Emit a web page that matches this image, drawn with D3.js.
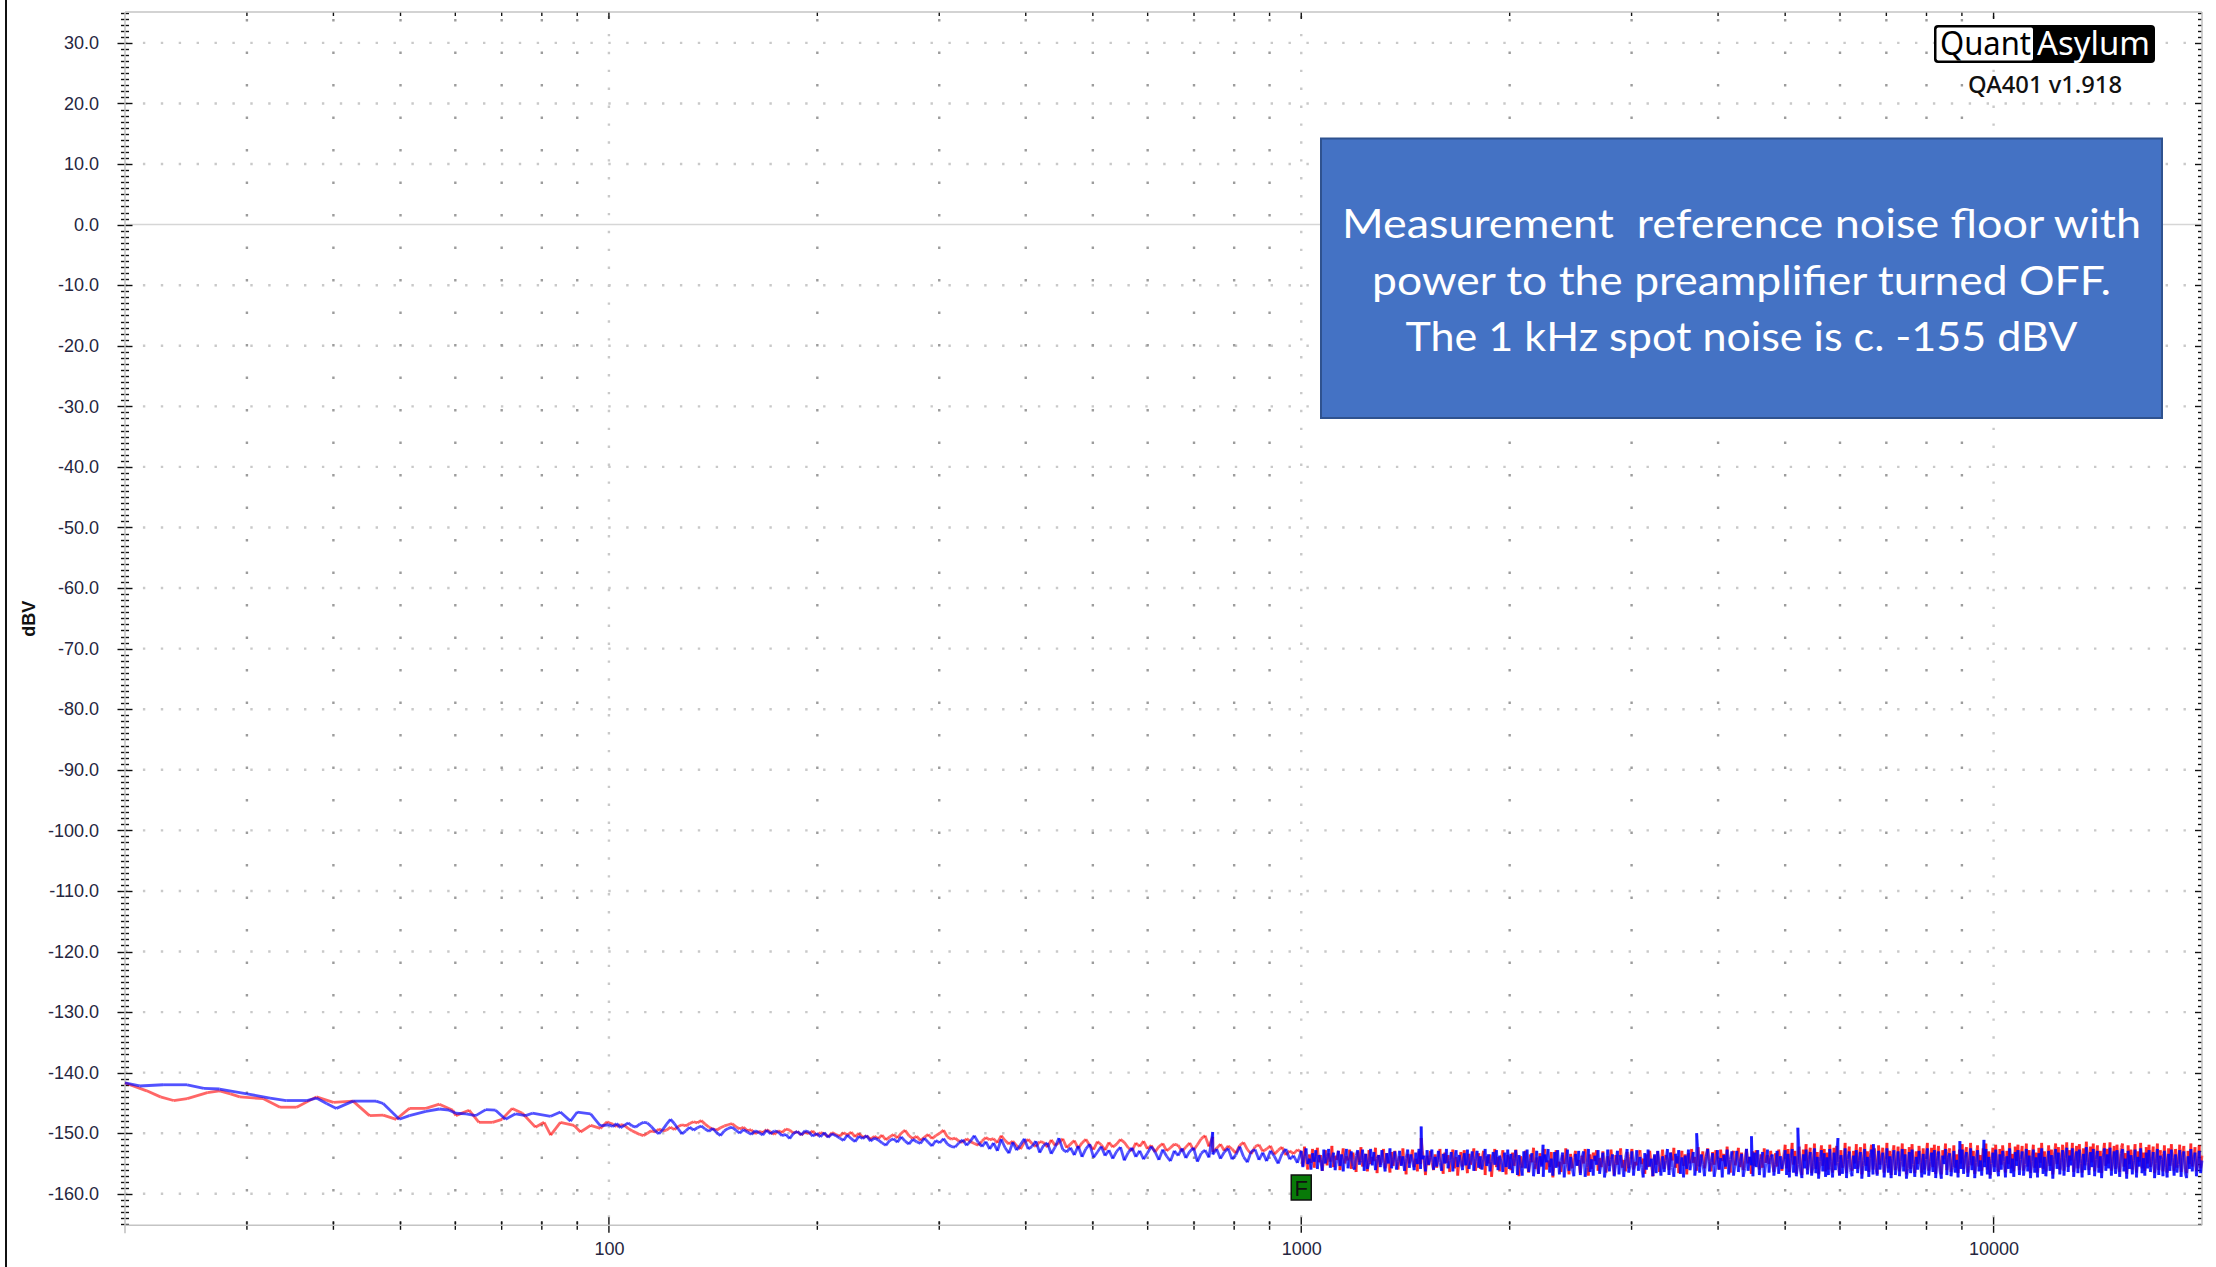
<!DOCTYPE html>
<html>
<head>
<meta charset="utf-8">
<script src="https://cdn.jsdelivr.net/npm/d3@7"></script>
<style>
  html, body { margin: 0; padding: 0; background: #ffffff; overflow: hidden; }
</style>
</head>
<body>
<svg id="chart" width="2216" height="1267"></svg>
<script>
// ---- Axis ranges and tick labels ----
const freqDomain = [20, 20000];           // Hz, log axis
const dbDomain = [-165.2, 35.1];          // dBV
const yMajorTicks = [30, 20, 10, 0, -10, -20, -30, -40, -50, -60, -70, -80, -90, -100, -110, -120, -130, -140, -150, -160];
const xLabelTicks = [100, 1000, 10000];
const yAxisTitle = "dBV";

// ---- Low band (20-100 Hz), individual readings per channel ----
const blueLowFreq = [20.0, 21.0, 22.7, 24.6, 26.0, 27.4, 30.0, 32.4, 34.2, 36.6, 37.8, 39.1, 40.4, 42.7, 46.1, 47.2, 49.8, 51.5, 54.4, 56.9, 58.8, 60.1, 62.2, 64.2, 66.4, 68.6, 70.9, 73.3, 75.8, 77.5, 82.4, 85.1, 88.0, 90.0, 94.1, 97.2];
const blueLowDb = [-141.7, -142.2, -142.0, -142.0, -142.6, -142.7, -143.5, -144.2, -144.6, -144.6, -144.2, -145.1, -145.9, -144.7, -144.7, -145.1, -147.7, -147.1, -146.4, -146.0, -146.2, -146.7, -146.8, -147.1, -146.1, -146.2, -147.7, -146.8, -147.1, -146.7, -147.2, -146.5, -148.0, -146.5, -146.8, -148.8];

const redLowFreq = [20.0, 21.5, 22.5, 23.5, 24.6, 26.3, 27.4, 28.4, 29.3, 31.7, 33.5, 35.4, 37.8, 40.0, 42.7, 45.1, 47.2, 49.3, 51.5, 54.4, 56.9, 59.5, 60.1, 62.8, 64.9, 67.9, 70.1, 72.5, 75.0, 78.3, 80.6, 82.4, 85.1, 89.0, 91.0, 94.1, 97.2, 99.4];
const redLowDb = [-141.7, -143.0, -144.0, -144.6, -144.3, -143.3, -143.0, -143.5, -144.0, -144.3, -145.7, -145.7, -144.0, -144.9, -144.7, -147.1, -147.0, -147.7, -145.9, -145.9, -145.2, -146.2, -147.1, -146.2, -148.2, -148.2, -147.7, -145.9, -146.7, -149.0, -148.2, -150.3, -148.2, -148.7, -149.8, -148.7, -149.2, -148.1];

// ---- Mid band (100 Hz - 1 kHz), log-spaced bins ----
const midBand = [100, 1000];
const midBlueDb = [
  -148.6,-148.9,-148.4,-149.1,-148.7,-148.3,-148.8,-149.0,-148.5,-148.2,
  -148.3,-148.9,-149.6,-150.1,-149.4,-148.5,-147.7,-148.4,-149.3,-150.1,
  -149.6,-149.0,-149.5,-149.1,-148.8,-149.3,-149.7,-149.2,-149.9,-150.4,
  -149.6,-149.2,-149.0,-149.5,-150.0,-149.4,-149.8,-150.2,-149.6,-149.9,
  -150.3,-149.5,-150.1,-149.6,-149.8,-150.4,-150.2,-150.9,-150.0,-149.7,
  -150.3,-149.6,-149.8,-150.5,-150.0,-150.6,-149.9,-150.7,-150.1,-150.4,
  -150.8,-151.2,-150.3,-150.9,-151.4,-150.5,-150.9,-150.4,-151.3,-150.8,
  -151.1,-151.6,-152.0,-151.2,-150.9,-151.5,-150.6,-151.3,-151.8,-151.0,
  -151.4,-151.7,-150.8,-151.5,-152.1,-151.2,-151.6,-150.9,-151.8,-152.2,
  -152.3,-151.6,-151.1,-152.0,-151.3,-150.4,-151.5,-152.2,-151.4,-152.6,
  -151.6,-152.9,-151.0,-152.4,-153.3,-151.5,-152.8,-151.9,-150.9,-152.6,
  -152.2,-151.3,-153.2,-152.0,-151.6,-153.4,-152.3,-150.8,-152.7,-153.1,
  -152.4,-153.6,-152.1,-153.9,-152.6,-151.8,-154.0,-153.1,-152.2,-153.7,
  -152.8,-154.2,-153.0,-152.3,-154.5,-153.2,-152.4,-153.9,-152.9,-154.3,
  -153.3,-152.2,-153.1,-154.4,-152.7,-153.8,-154.6,-152.9,-153.7,-152.5,
  -154.1,-153.0,-152.4,-154.7,-153.3,-152.8,-154.0,-153.5,-152.6,-154.2,
  -153.1,-152.5,-154.3,-153.6,-152.2,-153.9,-154.8,-153.0,-152.7,-154.4,
  -153.2,-154.6,-152.9,-153.8,-155.0,-153.4,-152.6,-154.3,-153.7,-154.9
];
const midRedDb = [
  -148.3,-148.5,-148.9,-148.6,-148.7,-149.2,-149.6,-149.9,-150.2,-150.4,
  -150.0,-149.6,-149.8,-149.3,-149.6,-149.5,-149.0,-149.4,-148.9,-148.6,
  -148.8,-148.4,-148.1,-148.3,-147.9,-148.5,-149.0,-149.3,-149.5,-149.1,
  -148.8,-148.6,-148.4,-148.9,-149.3,-149.0,-149.6,-149.4,-150.1,-149.7,
  -149.9,-149.4,-149.8,-150.2,-149.6,-149.9,-149.3,-149.5,-150.0,-149.7,
  -150.3,-149.8,-150.1,-149.6,-150.4,-149.9,-150.1,-150.6,-149.9,-150.2,
  -150.5,-149.9,-150.3,-149.8,-150.6,-150.0,-150.7,-150.4,-151.0,-150.5,
  -150.9,-150.3,-151.1,-150.6,-150.2,-150.8,-150.0,-149.5,-150.4,-150.9,
  -150.5,-151.2,-150.7,-150.2,-150.9,-150.4,-150.0,-149.5,-150.6,-151.0,
  -150.8,-151.3,-151.5,-150.9,-151.4,-151.7,-152.0,-151.3,-150.7,-151.1,
  -150.9,-151.6,-150.4,-151.2,-151.8,-151.3,-152.1,-152.6,-151.5,-151.0,
  -151.7,-152.2,-151.4,-151.5,-152.3,-151.1,-152.0,-151.6,-150.9,-152.4,
  -151.8,-151.2,-152.5,-151.6,-151.0,-152.0,-152.7,-151.4,-151.9,-152.8,
  -151.5,-152.3,-151.8,-151.0,-151.5,-152.4,-152.9,-151.6,-152.2,-151.3,
  -152.6,-152.0,-153.1,-152.2,-151.7,-152.9,-152.4,-151.8,-152.0,-153.0,
  -152.3,-151.6,-152.8,-151.9,-150.9,-150.4,-152.2,-153.1,-152.5,-151.8,
  -152.9,-152.1,-152.6,-153.3,-152.0,-151.5,-152.7,-153.4,-152.2,-151.9,
  -153.0,-152.6,-152.1,-153.5,-152.8,-152.3,-153.6,-152.9,-153.4,-152.7
];

// ---- Upper band (1 kHz - 5 kHz), log-spaced bins ----
const upperBand = [1000, 5000];
const upperBlueDb = [
  -152.9,-155.6,-153.8,-152.5,-155.1,-154.2,-156.0,-153.3,-154.7,-152.8,
  -155.9,-153.6,-154.4,-156.2,-152.7,-155.0,-153.9,-152.6,-155.7,-154.1,
  -153.2,-156.1,-154.6,-152.9,-155.4,-153.5,-156.3,-154.0,-152.6,-155.8,
  -154.3,-153.0,-155.5,-156.0,-153.7,-152.8,-155.2,-154.5,-152.7,-156.2,
  -153.4,-155.9,-154.8,-152.6,-155.3,-153.1,-156.1,-154.2,-153.6,-155.6,
  -152.8,-154.9,-156.3,-153.3,-155.0,-152.5,-155.8,-154.4,-153.0,-156.0,
  -154.7,-152.9,-155.4,-153.8,-156.2,-154.1,-152.7,-155.7,-153.5,-154.6,
  -156.1,-153.2,-155.1,-152.6,-155.9,-154.3,-153.7,-156.3,-152.8,-155.2,
  -154.0,-152.7,-156.0,-153.9,-155.5,-152.9,-154.8,-156.2,-153.4,-155.0,
  -152.6,-155.8,-154.5,-153.1,-156.3,-154.0,-152.8,-155.6,-153.6,-154.9,
  -156.1,-153.3,-155.3,-152.7,-155.9,-154.6,-153.0,-156.2,-154.2,-152.9,
  -155.7,-153.8,-156.0,-154.4,-152.6,-155.4,-153.5,-156.3,-154.7,-153.1,
  -155.2,-152.8,-156.1,-153.7,-154.8,-156.4,-153.2,-155.6,-152.7,-155.9,
  -153.4,-156.6,-154.1,-152.8,-156.9,-153.6,-155.3,-157.0,-153.0,-155.8,
  -152.7,-156.4,-154.5,-153.3,-157.1,-155.0,-152.9,-156.7,-153.8,-155.5,
  -157.2,-153.5,-154.8,-152.6,-156.5,-154.2,-157.0,-153.1,-155.7,-152.8,
  -156.8,-154.6,-153.2,-157.3,-155.1,-152.7,-156.2,-153.9,-155.9,-157.1,
  -153.4,-155.4,-152.9,-156.9,-154.0,-153.0,-157.2,-155.6,-152.6,-156.4,
  -154.3,-157.0,-153.7,-155.2,-152.8,-156.7,-154.9,-153.2,-157.3,-155.8,
  -152.7,-156.3,-154.4,-153.5,-157.1,-155.0,-152.9,-156.8,-153.6,-155.4,
  -157.2,-154.1,-152.6,-156.5,-155.3,-153.0,-157.0,-154.7,-152.8,-156.2,
  -153.9,-155.7,-157.3,-153.3,-156.0,-152.7,-155.5,-154.2,-157.1,-153.5,
  -156.6,-152.9,-155.1,-157.0,-153.8,-156.4,-154.5,-152.6,-156.9,-153.2,
  -155.6,-157.2,-153.4,-155.0,-152.8,-156.7,-154.0,-157.3,-153.7,-155.9,
  -152.7,-156.1,-154.6,-153.1,-157.0,-155.4,-152.9,-156.5,-153.5,-155.2,
  -157.1,-153.9,-152.6,-156.3,-154.8,-153.3,-157.2,-155.7,-152.8,-156.0,
  -154.1,-157.3,-153.6,-155.5,-152.7,-156.8,-154.3,-153.0,-157.0,-155.1,
  -152.9,-156.4,-154.7,-153.4,-157.2,-155.8,-152.6,-156.2,-153.9,-155.3,
  -157.1,-153.2,-155.6,-152.8,-156.9,-154.4,-153.1,-157.3,-155.0,-152.7,
  -156.5,-154.0,-153.5,-157.0,-155.2,-152.9,-156.7,-153.8,-155.9,-154.6
];
const upperRedDb = [
  -153.1,-155.4,-152.2,-154.6,-156.0,-153.5,-154.9,-152.6,-155.7,-153.9,
  -152.4,-154.8,-153.6,-156.2,-154.1,-152.8,-155.3,-153.3,-154.7,-152.1,
  -155.6,-153.7,-154.4,-152.9,-156.1,-154.0,-152.5,-155.0,-153.8,-154.5,
  -152.7,-155.9,-153.2,-154.3,-156.4,-153.0,-154.8,-152.3,-155.5,-154.1,
  -153.4,-156.3,-152.8,-155.1,-153.9,-154.6,-152.4,-156.6,-153.6,-155.2,
  -154.0,-152.6,-155.8,-153.3,-154.9,-156.5,-153.1,-155.4,-152.9,-154.4,
  -156.0,-153.8,-155.2,-152.5,-154.7,-156.8,-153.4,-155.0,-153.9,-152.7,
  -155.6,-154.2,-156.3,-153.0,-155.1,-152.8,-154.5,-156.9,-153.7,-155.3,
  -152.9,-154.8,-156.1,-153.5,-155.7,-154.0,-152.6,-155.4,-156.7,-153.2,
  -154.9,-153.6,-156.4,-154.3,-152.7,-155.8,-153.9,-157.0,-154.5,-153.1,
  -155.5,-152.8,-154.6,-156.6,-153.4,-155.2,-154.0,-152.5,-156.2,-154.7,
  -153.3,-155.9,-154.2,-152.9,-156.9,-153.8,-155.0,-153.5,-157.2,-154.4,
  -152.6,-155.6,-153.9,-156.3,-154.1,-152.8,-155.3,-156.8,-153.6,-154.9,
  -156.1,-153.2,-155.4,-152.7,-154.6,-157.1,-153.8,-155.7,-154.2,-152.9,
  -155.0,-156.5,-153.5,-154.8,-152.4,-155.9,-154.0,-156.7,-153.3,-155.2,
  -153.9,-152.6,-156.0,-154.5,-155.6,-153.1,-157.3,-154.2,-152.8,-155.5,
  -154.7,-156.4,-153.6,-155.1,-152.5,-154.9,-156.8,-153.4,-155.8,-154.0,
  -152.9,-155.3,-154.4,-156.6,-153.7,-155.0,-152.6,-154.8,-157.0,-153.5,
  -155.9,-153.2,-154.6,-152.8,-156.2,-154.1,-155.6,-153.0,-154.9,-156.5,
  -153.8,-155.4,-152.7,-154.3,-156.9,-153.6,-155.2,-154.0,-152.5,-155.7,
  -154.4,-156.3,-153.1,-155.8,-153.9,-152.6,-156.0,-154.7,-155.3,-153.4,
  -152.8,-155.1,-154.2,-156.7,-153.5,-155.6,-152.9,-154.6,-157.1,-153.7,
  -155.2,-153.0,-156.4,-154.8,-152.7,-155.9,-153.6,-154.3,-156.1,-153.2,
  -154.5,-152.4,-155.7,-153.8,-156.6,-154.1,-152.9,-155.4,-153.5,-156.8,
  -153.3,-155.0,-152.6,-154.9,-153.9,-156.2,-152.3,-155.5,-154.2,-153.0,
  -155.8,-153.6,-152.5,-154.7,-156.3,-153.1,-155.2,-152.8,-154.4,-156.0,
  -152.7,-154.6,-153.4,-155.9,-152.2,-154.8,-156.5,-153.7,-152.9,-155.3,
  -154.1,-152.4,-155.6,-153.2,-156.1,-154.5,-152.6,-155.0,-153.9,-156.7,
  -153.0,-155.4,-152.8,-154.3,-156.0,-153.5,-155.7,-152.5,-154.9,-153.6,
  -155.1,-152.9,-154.7,-156.4,-153.3,-155.5,-152.7,-154.2,-156.2,-153.8
];

// ---- Top band (5 kHz - 20 kHz), log-spaced bins ----
const topBand = [5000, 20000];
const topBlueDb = [
  -152.8,-156.9,-153.4,-157.3,-154.1,-152.6,-156.5,-153.8,-157.1,-155.2,
  -152.9,-156.2,-157.4,-153.5,-155.8,-152.7,-156.8,-154.4,-153.1,-157.0,
  -155.5,-152.5,-156.6,-153.9,-157.5,-154.7,-152.8,-156.3,-153.3,-157.2,
  -154.0,-156.9,-152.6,-155.6,-157.3,-153.2,-156.1,-152.9,-154.8,-157.0,
  -153.6,-156.7,-155.1,-152.5,-157.4,-154.3,-153.0,-156.4,-157.1,-153.7,
  -155.9,-152.8,-156.6,-154.5,-153.1,-157.5,-155.3,-152.6,-156.2,-153.9,
  -157.2,-154.1,-152.7,-156.8,-153.4,-155.7,-157.0,-152.9,-156.0,-154.6,
  -153.2,-157.3,-155.0,-152.5,-156.5,-153.8,-157.4,-154.2,-152.8,-156.9,
  -155.4,-153.0,-157.1,-154.7,-152.6,-156.3,-153.5,-157.5,-155.8,-153.1,
  -156.6,-152.7,-155.2,-157.2,-153.9,-156.0,-152.9,-154.9,-157.3,-153.4,
  -156.8,-154.3,-152.5,-157.0,-155.5,-153.2,-156.4,-152.8,-157.4,-154.6,
  -153.0,-156.2,-157.5,-153.7,-155.1,-152.6,-156.9,-154.0,-153.3,-157.1,
  -155.7,-152.9,-156.5,-154.4,-157.3,-153.6,-155.9,-152.7,-156.7,-154.1,
  -153.1,-157.2,-155.3,-152.5,-156.1,-153.8,-157.4,-154.8,-152.8,-156.3,
  -154.5,-157.0,-153.4,-155.6,-152.6,-156.8,-153.9,-157.5,-155.0,-153.2,
  -156.4,-152.7,-155.8,-157.1,-153.5,-156.0,-152.9,-154.7,-157.3,-153.8,
  -155.9,-152.5,-156.6,-154.2,-157.2,-153.1,-155.4,-152.8,-156.9,-154.3,
  -153.0,-157.0,-155.2,-152.6,-156.3,-153.7,-157.4,-154.6,-152.7,-156.5,
  -154.0,-157.3,-153.3,-155.7,-152.5,-156.7,-153.9,-157.1,-155.1,-152.9,
  -156.2,-153.6,-157.5,-154.4,-152.6,-155.9,-153.2,-156.8,-154.9,-152.8,
  -157.0,-154.1,-152.4,-156.4,-153.7,-155.3,-152.5,-157.2,-154.6,-153.0,
  -156.6,-152.7,-155.0,-157.3,-153.4,-156.1,-152.3,-154.8,-156.9,-153.1,
  -155.6,-152.6,-157.1,-154.3,-152.9,-156.5,-153.8,-157.4,-154.0,-152.5,
  -156.2,-153.5,-155.8,-152.4,-157.0,-154.7,-153.0,-156.7,-152.8,-155.4,
  -157.2,-153.3,-152.6,-156.3,-154.2,-157.5,-152.9,-155.9,-153.6,-156.8,
  -154.5,-152.7,-157.3,-153.9,-155.5,-152.5,-156.6,-154.1,-157.0,-153.2,
  -155.8,-152.8,-156.4,-154.6,-153.1,-157.4,-155.0,-152.6,-156.9,-153.7,
  -154.3,-157.1,-152.9,-155.6,-157.3,-153.4,-156.2,-152.7,-154.9,-157.0,
  -153.5,-156.5,-155.2,-152.8,-157.2,-154.0,-153.0,-156.7,-157.4,-153.8,
  -155.9,-152.6,-156.3,-154.4,-153.2,-157.1,-155.1,-152.9,-156.6,-154.5
];
const topRedDb = [
  -151.9,-155.8,-152.6,-156.4,-153.3,-151.6,-155.2,-152.9,-156.7,-154.0,
  -152.2,-155.5,-156.9,-152.7,-154.6,-151.8,-156.1,-153.5,-152.4,-156.6,
  -154.8,-151.7,-155.9,-153.1,-156.8,-153.8,-152.0,-155.4,-152.6,-156.3,
  -153.2,-156.0,-151.9,-154.7,-156.5,-152.4,-155.3,-152.1,-153.9,-156.9,
  -152.8,-155.7,-154.3,-151.6,-156.6,-153.4,-152.2,-155.6,-156.2,-152.9,
  -155.0,-151.8,-155.9,-153.6,-152.3,-156.8,-154.5,-151.7,-155.4,-153.0,
  -156.4,-153.2,-151.9,-156.0,-152.5,-154.8,-156.7,-152.0,-155.2,-153.7,
  -152.4,-156.5,-154.1,-151.6,-155.8,-152.9,-156.9,-153.3,-152.0,-156.1,
  -154.6,-152.2,-156.3,-153.8,-151.7,-155.5,-152.6,-156.8,-154.9,-152.3,
  -155.9,-151.8,-154.4,-156.6,-153.0,-155.1,-152.1,-154.0,-156.5,-152.5,
  -156.0,-153.4,-151.6,-156.2,-154.7,-152.4,-155.6,-151.9,-156.7,-153.7,
  -152.1,-155.4,-156.8,-152.8,-154.3,-151.7,-156.1,-153.1,-152.5,-156.4,
  -154.9,-152.0,-155.7,-153.5,-156.6,-152.7,-155.0,-151.8,-155.9,-153.3,
  -152.3,-156.5,-154.5,-151.6,-155.3,-152.9,-156.7,-153.9,-152.0,-155.5,
  -153.6,-156.2,-152.5,-154.8,-151.7,-156.0,-153.0,-156.9,-154.2,-152.4,
  -155.6,-151.9,-154.9,-156.4,-152.6,-155.2,-152.0,-153.8,-156.5,-152.9,
  -155.1,-151.6,-155.8,-153.4,-156.3,-152.2,-154.6,-151.9,-156.1,-153.5,
  -152.1,-156.2,-154.4,-151.7,-155.5,-152.8,-156.6,-153.7,-151.9,-155.7,
  -153.2,-156.5,-152.4,-154.9,-151.6,-155.9,-153.0,-156.3,-154.3,-152.0,
  -155.4,-152.7,-156.8,-153.6,-151.7,-155.1,-152.3,-156.0,-154.0,-151.9,
  -156.2,-153.3,-151.5,-155.6,-152.8,-154.5,-151.6,-156.4,-153.8,-152.1,
  -155.8,-151.8,-154.2,-156.5,-152.5,-155.3,-151.4,-153.9,-156.1,-152.2,
  -154.8,-151.7,-156.3,-153.5,-152.0,-155.7,-152.9,-156.6,-153.2,-151.6,
  -155.4,-152.6,-155.0,-151.5,-156.2,-153.9,-152.1,-155.9,-151.9,-154.6,
  -156.4,-152.4,-151.7,-155.5,-153.3,-156.7,-152.0,-155.1,-152.7,-156.0,
  -153.6,-151.8,-156.5,-153.0,-154.7,-151.6,-155.8,-153.2,-156.2,-152.3,
  -155.0,-151.9,-155.6,-153.8,-152.2,-156.6,-154.1,-151.7,-156.1,-152.8,
  -153.4,-156.3,-152.0,-154.8,-156.5,-152.5,-155.4,-151.8,-154.0,-156.2,
  -152.6,-155.7,-154.4,-151.9,-156.4,-153.1,-152.1,-155.9,-156.6,-152.9,
  -155.1,-151.7,-155.5,-153.6,-152.3,-156.3,-154.2,-152.0,-155.8,-153.7
];

// ---- Discrete tones (harmonics of ~745 Hz) ----
const blueToneFreq = [745, 1490, 2235, 3725, 4470, 5215, 5960, 6705, 8940, 9685];
const blueToneDb = [-149.8, -148.9, -151.9, -150.0, -150.5, -149.1, -150.8, -151.8, -151.3, -151.1];
const redToneFreq = [745, 1490];
const redToneDb = [-150.6, -150.8];

// ---- Annotations ----
const markerFreq = 1000;
const markerLabel = "F";
const noteLines = [
  "Measurement\u00a0 reference noise floor with",
  "power to the preamplifier turned OFF.",
  "The 1 kHz spot noise is c. -155 dBV"
];
const logoLeft = "Quant";
const logoRight = "Asylum";
const versionText = "QA401 v1.918";

// ================= drawing =================
const W = 2216, H = 1267;
const plot = { left: 125, right: 2202, top: 12, bottom: 1225.3 };
const svg = d3.select("#chart");

const x = d3.scaleLog().domain(freqDomain).range([plot.left, plot.right]);
const y = d3.scaleLinear().domain(dbDomain).range([plot.bottom, plot.top]);

const tickFont = "'Liberation Sans', Arial, sans-serif";
const tickColor = "#262640";
const axisGrey = "#c4c4c4";

svg.append("rect").attr("width", W).attr("height", H).attr("fill", "#ffffff");

// window edge on the left
svg.append("line").attr("x1", 6).attr("x2", 6).attr("y1", 0).attr("y2", H)
  .attr("stroke", "#111").attr("stroke-width", 2);

// minor frequency positions (2..9 x decade) inside the domain
const minorFreqs = [];
[10, 100, 1000, 10000].forEach(dec => {
  for (let m = 2; m <= 9; m++) {
    const f = dec * m;
    if (f > freqDomain[0] && f < freqDomain[1]) minorFreqs.push(f);
  }
});
const decadeFreqs = [100, 1000, 10000];

// ---- grid ----
const grid = svg.append("g");
yMajorTicks.forEach(v => {
  if (v === 0) {
    grid.append("line").attr("x1", plot.left).attr("x2", plot.right)
      .attr("y1", y(v)).attr("y2", y(v))
      .attr("stroke", "#d6d6d6").attr("stroke-width", 1.5);
  } else {
    grid.append("line").attr("x1", plot.left).attr("x2", plot.right)
      .attr("y1", y(v)).attr("y2", y(v))
      .attr("stroke", "#c9c9c9").attr("stroke-width", 2.4)
      .attr("stroke-dasharray", "2.4 15.5");
  }
});
minorFreqs.forEach(f => {
  grid.append("line").attr("x1", x(f)).attr("x2", x(f))
    .attr("y1", 19).attr("y2", plot.bottom)
    .attr("stroke", "#9c9c9c").attr("stroke-width", 2.4)
    .attr("stroke-dasharray", "2.4 30.1");
});
decadeFreqs.forEach(f => {
  grid.append("line").attr("x1", x(f)).attr("x2", x(f))
    .attr("y1", 16).attr("y2", plot.bottom)
    .attr("stroke", "#c9c9c9").attr("stroke-width", 2.4)
    .attr("stroke-dasharray", "2.4 15.5");
});

// ---- tick marks ----
const ticks = svg.append("g").attr("stroke", "#111").attr("stroke-width", 1.4);
const dbMinor = d3.range(Math.ceil(dbDomain[0]), Math.floor(dbDomain[1]) + 1, 1);
dbMinor.forEach(v => {
  const major = v % 10 === 0;
  const yy = Math.round(y(v)) + 0.5;
  ticks.append("line").attr("x1", plot.left - (major ? 7.5 : 4)).attr("x2", plot.left + (major ? 7.5 : 4))
    .attr("y1", yy).attr("y2", yy);
  ticks.append("line").attr("x1", plot.right - (major ? 7 : 4)).attr("x2", plot.right)
    .attr("y1", yy).attr("y2", yy);
});
minorFreqs.concat(decadeFreqs).forEach(f => {
  const major = decadeFreqs.includes(f);
  const xx = x(f);
  ticks.append("line").attr("x1", xx).attr("x2", xx)
    .attr("y1", plot.bottom - (major ? 8 : 4)).attr("y2", plot.bottom + (major ? 7.5 : 4.5));
  ticks.append("line").attr("x1", xx).attr("x2", xx)
    .attr("y1", plot.top).attr("y2", plot.top + (major ? 7 : 4));
});

// ---- axis lines (light, drawn over the tick marks) ----
const frame = svg.append("g").attr("stroke", axisGrey).attr("stroke-width", 1.6).attr("fill", "none");
frame.append("line").attr("x1", plot.left).attr("x2", plot.left).attr("y1", plot.top).attr("y2", plot.bottom + 8);
frame.append("line").attr("x1", plot.left).attr("x2", plot.right).attr("y1", plot.bottom).attr("y2", plot.bottom);
frame.append("line").attr("x1", plot.left).attr("x2", plot.right).attr("y1", plot.top).attr("y2", plot.top);
frame.append("line").attr("x1", plot.right).attr("x2", plot.right).attr("y1", plot.top).attr("y2", plot.bottom);

// ---- tick labels ----
const yAxis = svg.append("g").attr("transform", `translate(${plot.left},0)`)
  .call(d3.axisLeft(y).tickValues(yMajorTicks).tickFormat(v => v.toFixed(1)).tickSize(0).tickPadding(26));
yAxis.select(".domain").remove();
yAxis.selectAll("text").attr("font-family", tickFont).attr("font-size", 18).attr("fill", tickColor);

const xAxis = svg.append("g").attr("transform", `translate(0,${plot.bottom})`)
  .call(d3.axisBottom(x).tickValues(xLabelTicks).tickFormat(d => String(d)).tickSize(0).tickPadding(17));
xAxis.select(".domain").remove();
xAxis.selectAll("text").attr("font-family", tickFont).attr("font-size", 18).attr("fill", tickColor);

svg.append("text")
  .attr("transform", `translate(29,${(plot.top + plot.bottom) / 2}) rotate(-90)`)
  .attr("text-anchor", "middle").attr("dominant-baseline", "central")
  .attr("font-family", tickFont).attr("font-size", 18).attr("font-weight", "bold")
  .attr("fill", "#111").text(yAxisTitle);

// ---- spectra ----
function spacedBins(lo, hi, n, closed) {
  const steps = closed ? n - 1 : n;
  return d3.range(n).map(i => lo * Math.pow(hi / lo, i / steps));
}
function buildSeries(lowF, lowV, bands, toneF, toneV) {
  const pts = [];
  lowF.forEach((f, i) => pts.push({ f, v: lowV[i] }));
  bands.forEach(b => {
    const fs = spacedBins(b.range[0], b.range[1], b.values.length, b.closed);
    b.values.forEach((v, i) => pts.push({ f: fs[i], v }));
  });
  toneF.forEach((f, i) => pts.push({ f, v: toneV[i] }));
  return pts.sort((a, b) => a.f - b.f);
}
const redSeries = buildSeries(redLowFreq, redLowDb, [
  { range: midBand, values: midRedDb, closed: false },
  { range: upperBand, values: upperRedDb, closed: false },
  { range: topBand, values: topRedDb, closed: true }
], redToneFreq, redToneDb);
const blueSeries = buildSeries(blueLowFreq, blueLowDb, [
  { range: midBand, values: midBlueDb, closed: false },
  { range: upperBand, values: upperBlueDb, closed: false },
  { range: topBand, values: topBlueDb, closed: true }
], blueToneFreq, blueToneDb);

// Each step of a trace is its own segment so that overlapping strokes
// build up, the way a dense spectrum saturates.
function drawTrace(series, color, opacity) {
  svg.append("g")
    .attr("stroke", color).attr("stroke-opacity", opacity)
    .attr("stroke-width", 2.8).attr("stroke-linecap", "butt")
    .selectAll("line")
    .data(d3.pairs(series))
    .join("line")
    .attr("x1", d => x(d[0].f)).attr("y1", d => y(d[0].v))
    .attr("x2", d => x(d[1].f)).attr("y2", d => y(d[1].v));
}
drawTrace(redSeries, "#ff0000", 0.6);
drawTrace(blueSeries, "#0000ff", 0.68);

// ---- frequency marker ----
const mx = x(markerFreq);
svg.append("rect").attr("x", mx - 10).attr("y", 1175).attr("width", 20).attr("height", 25)
  .attr("fill", "#087a08").attr("stroke", "#111").attr("stroke-width", 1.5);
svg.append("text").attr("x", mx).attr("y", 1195.5).attr("text-anchor", "middle")
  .attr("font-family", tickFont).attr("font-size", 22).attr("fill", "#111").text(markerLabel);

// ---- logo and version ----
const logoFont = "'Noto Sans', 'Open Sans', sans-serif";
svg.append("rect").attr("x", 1934).attr("y", 25).attr("width", 221).attr("height", 38)
  .attr("rx", 4).attr("fill", "#000");
svg.append("rect").attr("x", 1936.5).attr("y", 27.5).attr("width", 96.5).attr("height", 33)
  .attr("rx", 2).attr("fill", "#fff");
svg.append("text").attr("x", 1940).attr("y", 55).attr("font-family", logoFont).attr("font-size", 32)
  .attr("fill", "#000").attr("textLength", 91).attr("lengthAdjust", "spacingAndGlyphs").text(logoLeft);
svg.append("text").attr("x", 2037).attr("y", 55).attr("font-family", logoFont).attr("font-size", 32)
  .attr("fill", "#fff").attr("textLength", 113).attr("lengthAdjust", "spacingAndGlyphs").text(logoRight);
svg.append("text").attr("x", 1968).attr("y", 92.5).attr("font-family", logoFont).attr("font-size", 23)
  .attr("font-weight", 500).attr("fill", "#111")
  .attr("textLength", 154).attr("lengthAdjust", "spacingAndGlyphs").text(versionText);

// ---- note box ----
const box = { x: 1321, y: 138.5, w: 841, h: 279.5 };
svg.append("rect").attr("x", box.x).attr("y", box.y).attr("width", box.w).attr("height", box.h)
  .attr("fill", "#4472c4").attr("stroke", "#2f528f").attr("stroke-width", 2);
const noteWidths = [799, 739, 672];
const noteBase = [238, 294.5, 351];
noteLines.forEach((t, i) => {
  svg.append("text").attr("x", box.x + box.w / 2).attr("y", noteBase[i])
    .attr("text-anchor", "middle")
    .attr("font-family", "Lato, 'Open Sans', sans-serif").attr("font-size", 41)
    .attr("fill", "#ffffff")
    .attr("textLength", noteWidths[i]).attr("lengthAdjust", "spacingAndGlyphs")
    .text(t);
});
</script>
</body>
</html>
